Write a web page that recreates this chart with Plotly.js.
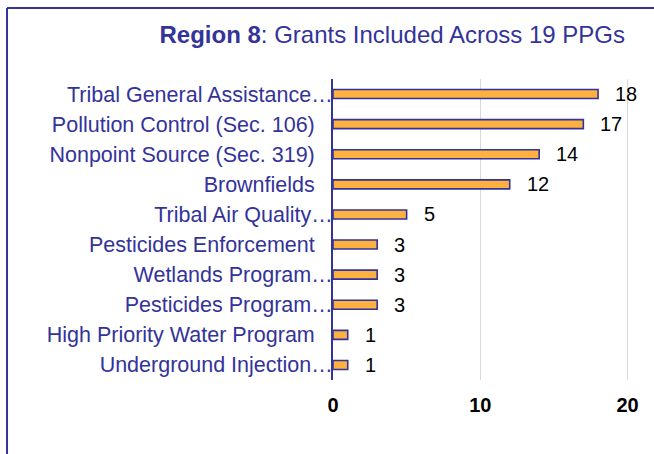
<!DOCTYPE html>
<html>
<head>
<meta charset="utf-8">
<script src="https://cdn.plot.ly/plotly-3.0.1.min.js"></script>
<style>
  html, body { margin: 0; padding: 0; background: #ffffff; }
  #chart { width: 654px; height: 454px; }
</style>
</head>
<body>
<div id="chart"></div>
<script>
// ---- data ----
var categories = [
  "Tribal General Assistance…",
  "Pollution Control (Sec. 106)",
  "Nonpoint Source (Sec. 319)",
  "Brownfields",
  "Tribal Air Quality…",
  "Pesticides Enforcement",
  "Wetlands Program…",
  "Pesticides Program…",
  "High Priority Water Program",
  "Underground Injection…"
];
var grants = [18, 17, 14, 12, 5, 3, 3, 3, 1, 1];
var xTickValues = [0, 10, 20];
var titleBold = "Region 8";
var titleRest = ": Grants Included Across 19 PPGs";

// ---- styling ----
var navy = "#333399";
var font = "'Liberation Sans', Arial, sans-serif";

// tick labels: non-truncated labels sit a bit left of the axis
var tickText = categories.map(function (c) {
  return c.slice(-1) === "…" ? c : c + "\u00a0\u00a0\u00a0";
});

var trace = {
  type: "bar",
  orientation: "h",
  y: categories,
  x: grants,
  width: 0.3,
  marker: { color: "#FDB140", line: { color: navy, width: 1.6 } },
  hoverinfo: "none"
};

var annotations = grants.map(function (v, i) {
  return {
    x: v, y: categories[i], xref: "x", yref: "y",
    text: String(v), showarrow: false,
    xanchor: "left", yanchor: "middle", xshift: 15,
    font: { family: font, size: 20, color: "#000000" }
  };
});

// layout geometry (x=0 at 333px, x=20 at 628px)
var W = 654, H = 454, L = 333, T = 79, B = 74;
var xMax = 20.1;
var unitPx = (628 - L) / 20;
var R = W - (L + unitPx * xMax);
var pw = W - L - R, ph = H - T - B;
function px2x(p) { return (p - L) / pw; }
function py2y(p) { return (H - B - p) / ph; }

var layout = {
  width: W, height: H,
  margin: { l: L, r: R, t: T, b: B, pad: 0 },
  paper_bgcolor: "#ffffff",
  plot_bgcolor: "#ffffff",
  showlegend: false,
  title: {
    text: "<b>" + titleBold + "</b>" + titleRest,
    font: { family: font, size: 24, color: navy },
    xref: "container", yref: "container",
    x: 625 / W, xanchor: "right",
    y: 1 - 35 / H, yanchor: "middle"
  },
  xaxis: {
    range: [0, xMax],
    tickvals: xTickValues,
    ticktext: xTickValues.map(String),
    showgrid: true, gridcolor: "#D9D9D9", gridwidth: 1,
    zeroline: false, showline: false, ticks: "",
    tickfont: { family: font, size: 20, color: "#000000", weight: "bold" },
    ticklabelstandoff: 11,
    fixedrange: true
  },
  yaxis: {
    type: "category",
    categoryorder: "array",
    categoryarray: categories,
    autorange: "reversed",
    tickvals: categories,
    ticktext: tickText,
    showgrid: false, zeroline: false,
    showline: true, linecolor: navy, linewidth: 2,
    ticks: "",
    tickfont: { family: font, size: 21.5, color: navy },
    ticklabelstandoff: -6,
    fixedrange: true
  },
  bargap: 0.7,
  annotations: annotations,
  shapes: [
    { type: "line", xref: "paper", yref: "paper",
      x0: px2x(6.5), x1: px2x(W + 10), y0: py2y(8), y1: py2y(8),
      line: { color: navy, width: 2 } },
    { type: "line", xref: "paper", yref: "paper",
      x0: px2x(6.5), x1: px2x(6.5), y0: py2y(8), y1: py2y(H + 10),
      line: { color: navy, width: 2 } }
  ]
};

Plotly.newPlot("chart", [trace], layout, { displayModeBar: false, staticPlot: true });
</script>
</body>
</html>
